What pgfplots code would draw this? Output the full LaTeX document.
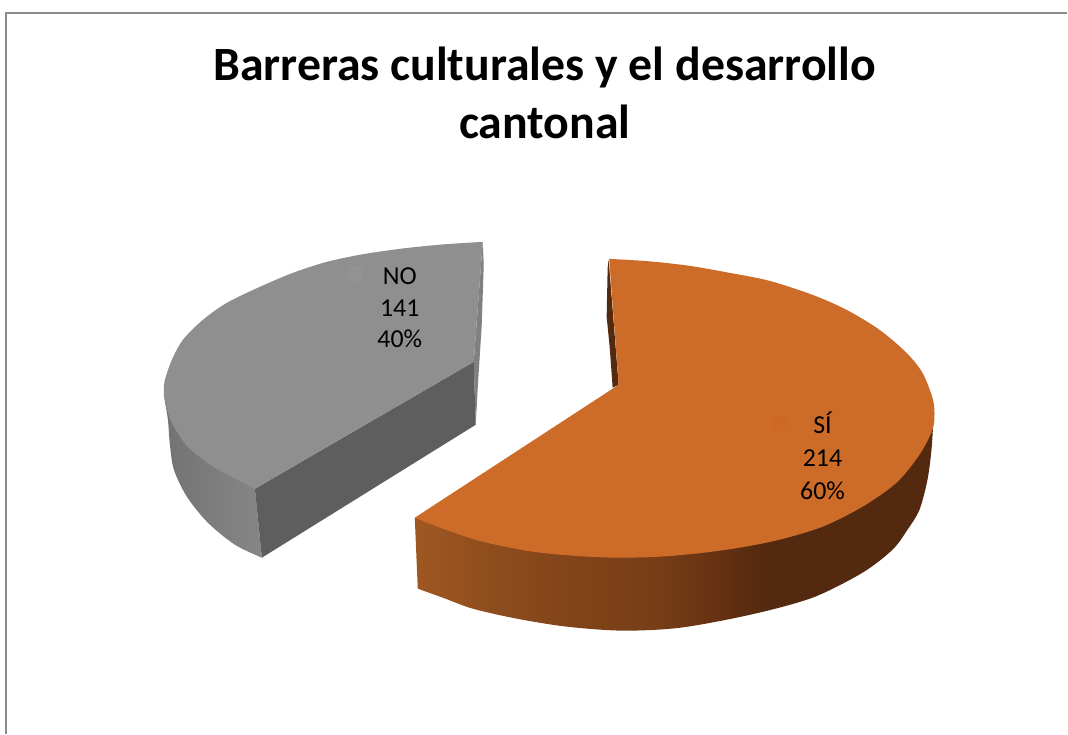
\documentclass[border=0pt]{standalone}
\usepackage{fontspec}
\setmainfont{Carlito}
\usepackage{pgfplots}
\pgfplotsset{compat=1.18}
\definecolor{orangetop}{HTML}{CD6B28}
\definecolor{orangewall}{HTML}{53290F}
\definecolor{graytop}{HTML}{8F8F8F}
\definecolor{graywall}{HTML}{5E5E5E}
\definecolor{graysliver}{HTML}{808080}
\definecolor{os0}{HTML}{A05722}
\definecolor{os1}{HTML}{914F1E}
\definecolor{os2}{HTML}{84461A}
\definecolor{os3}{HTML}{783E17}
\definecolor{os4}{HTML}{6A3413}
\definecolor{gs0}{HTML}{737373}
\definecolor{gs1}{HTML}{868686}
\pgfdeclarehorizontalshading{orangeside}{100bp}{
 color(0bp)=(os0); color(25bp)=(os0); color(31bp)=(os1); color(38bp)=(os2); color(47.6bp)=(os3); color(53bp)=(os4); color(59bp)=(orangewall); color(100bp)=(orangewall)}
\pgfdeclarehorizontalshading{grayside}{100bp}{
 color(0bp)=(gs0); color(25bp)=(gs0); color(75bp)=(gs1); color(100bp)=(gs1)}
\begin{document}
\begin{tikzpicture}
\begin{axis}[
  scale only axis, width=1068bp, height=734bp,
  xmin=0, xmax=1068, ymin=0, ymax=734, y dir=reverse,
  hide axis, clip=false]
\path (axis cs:0,0) rectangle (axis cs:1068,734);
% chart frame
\addplot[draw=black!45, line width=1.2bp] coordinates {(6,734) (6,13) (1068,13)};
% NO slice
\addplot[draw=none, fill=graysliver] coordinates {(483,242) (484,265) (482,325) (478,388) (476,425) (474,362)} --cycle;
\addplot[draw=none, shading=grayside, smooth, tension=0.5] coordinates {(165,402) (168,420) (170,445) (174,470) (187,497) (208,523) (235,545) (262,558)} -- (axis cs:255,489) -- cycle;
\addplot[draw=none, fill=graywall] coordinates {(255,489) (474,362) (476,425) (262,558)} --cycle;
\addplot[draw=none, fill=graytop, smooth, tension=0.5] coordinates {(483,242) (443,244.6) (403,248.6) (363,254.4) (327,262) (293,273) (260,287) (227,303) (203,320) (183,340) (172,360) (165,380) (164,392) (165,402) (172,423) (188,447) (215,468) (255,489)} -- (axis cs:474,362) -- cycle;
% SI slice
\addplot[draw=none, fill=orangewall] coordinates {(609,260) (608,268) (607,317) (610,347) (613,388) (619,385)} --cycle;
\addplot[draw=none, shading=orangeside, smooth, tension=0.5] coordinates {(935,413) (934,420) (932,450) (928,480) (920,510) (908,530) (893,550) (863,573) (813,598) (751,615) (681,628) (623,631) (567,627) (517,619) (473,609) (443,598) (418,589)} -- (axis cs:415,518) -- cycle;
\addplot[draw=none, fill=orangetop, smooth, tension=0.5] coordinates {(609.5,259) (650,261.5) (690,266) (730,273) (770,281) (813,295) (847,310) (880,330) (907,353) (923,373) (933,398) (935,413) (933,430) (920,455) (897,483) (863,507) (823,527) (780,540) (740,548) (700,553.5) (660,557) (620,558) (580,556.5) (533,552) (483,542) (443,529) (415,518)} -- (axis cs:619,385) -- cycle;
% data label keys
\addplot[draw=none, fill=graytop!96!white] coordinates {(348,266) (363,266) (363,281) (348,281)} --cycle;
\addplot[draw=none, fill=orangetop!96!red] coordinates {(771,416) (786,416) (786,431) (771,431)} --cycle;
% text
\node[font=\bfseries\fontsize{48}{59}\selectfont, align=center, anchor=center] at (axis cs:545,93) {Barreras culturales y el desarrollo\\cantonal};
\node[font=\fontsize{26}{32}\selectfont, align=center, anchor=center] at (axis cs:400,308) {NO\\141\\40\%};
\node[font=\fontsize{26}{33}\selectfont, align=center, anchor=center] at (axis cs:823,456) {SÍ\\214\\60\%};
\end{axis}
\end{tikzpicture}
\end{document}
